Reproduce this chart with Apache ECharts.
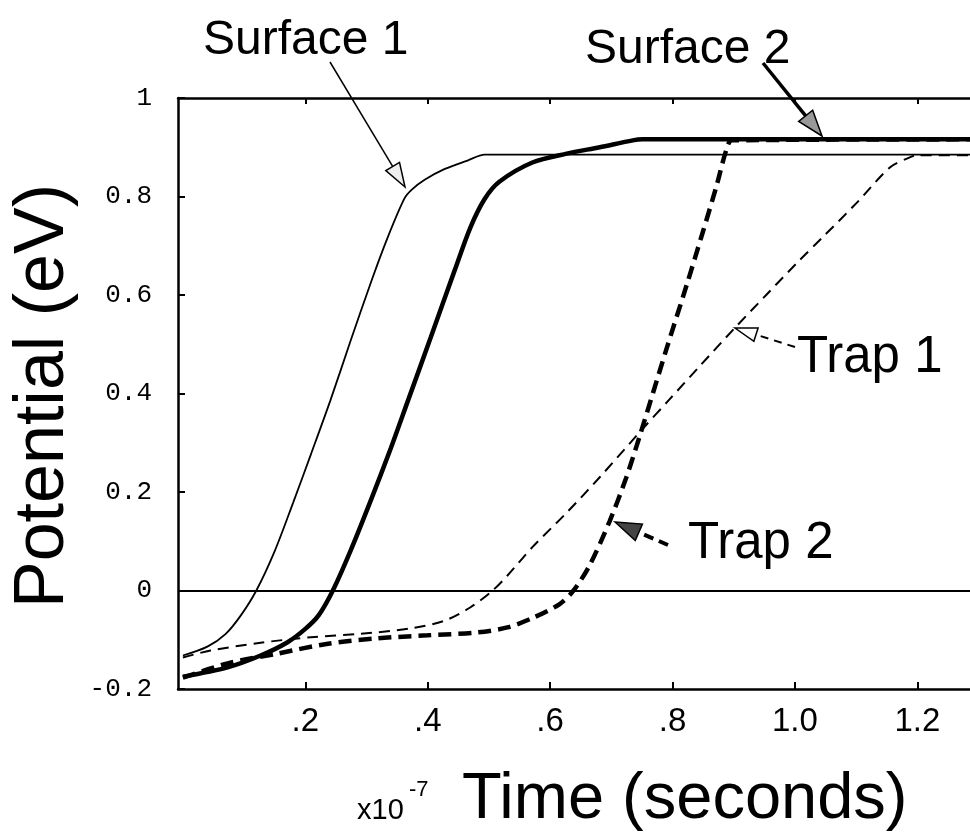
<!DOCTYPE html>
<html>
<head>
<meta charset="utf-8">
<style>
  html, body { margin: 0; padding: 0; background: #fff; }
  #chart { width: 970px; height: 833px; }
</style>
<script src="https://cdn.jsdelivr.net/npm/echarts@6/dist/echarts.min.js"></script>
</head>
<body>
<div id="chart"></div>
<script>
// 축 눈금
var xTickValues = [0.2, 0.4, 0.6, 0.8, 1.0, 1.2];
var xTickLabels = ['.2', '.4', '.6', '.8', '1.0', '1.2'];
var yTickLabels = ['-0.2', '0', '0.2', '0.4', '0.6', '0.8', '1'];

// Surface 1
var surface1T = [0, 0.04, 0.07, 0.095, 0.12, 0.15, 0.18, 0.209, 0.241, 0.274, 0.307, 0.334, 0.362, 0.374, 0.395, 0.428, 0.465, 0.493, 1.29];
var surface1V = [-0.132, -0.114, -0.088, -0.05, 0, 0.08, 0.178, 0.276, 0.386, 0.507, 0.625, 0.715, 0.796, 0.814, 0.834, 0.856, 0.873, 0.885, 0.885];

// Surface 2
var surface2T = [0, 0.073, 0.127, 0.171, 0.20, 0.222, 0.245, 0.274, 0.307, 0.34, 0.367, 0.405, 0.444, 0.47, 0.493, 0.517, 0.571, 0.627, 0.681, 0.735, 0.751, 1.29];
var surface2V = [-0.175, -0.156, -0.132, -0.105, -0.078, -0.05, 0, 0.081, 0.183, 0.29, 0.383, 0.514, 0.65, 0.738, 0.795, 0.830, 0.869, 0.887, 0.90, 0.914, 0.916, 0.916];

// Trap 1
var trap1T = [0, 0.045, 0.127, 0.209, 0.29, 0.372, 0.428, 0.47, 0.506, 0.53, 0.571, 0.627, 0.681, 0.751, 0.795, 0.844, 0.901, 0.953, 1.007, 1.045, 1.10, 1.155, 1.183, 1.20, 1.29];
var trap1V = [-0.136, -0.122, -0.106, -0.095, -0.088, -0.077, -0.061, -0.034, 0, 0.03, 0.088, 0.158, 0.23, 0.328, 0.388, 0.455, 0.532, 0.6, 0.67, 0.717, 0.786, 0.859, 0.877, 0.884, 0.884];

// Trap 2
var trap2T = [0, 0.073, 0.155, 0.237, 0.318, 0.40, 0.482, 0.53, 0.571, 0.615, 0.637, 0.664, 0.697, 0.724, 0.746, 0.79, 0.823, 0.85, 0.872, 0.888, 0.897, 1.29];
var trap2V = [-0.177, -0.148, -0.128, -0.108, -0.097, -0.091, -0.085, -0.075, -0.056, -0.028, -0.002, 0.05, 0.14, 0.228, 0.312, 0.49, 0.62, 0.73, 0.822, 0.895, 0.914, 0.916];

function pairs(t, v) {
    return t.map(function(x, i) { return [x, v[i]]; });
}

// 화살표 (선 + 삼각형 머리)
function arrow(x1, y1, x2, y2, opt) {
    var dx = x2 - x1, dy = y2 - y1;
    var len = Math.sqrt(dx * dx + dy * dy);
    var ux = dx / len, uy = dy / len;
    var hl = opt.headLen, hw = opt.headWidth;
    var bx = x2 - ux * hl, by = y2 - uy * hl;
    return [{
        type : 'line',
        shape : { x1 : x1, y1 : y1, x2 : bx, y2 : by },
        style : { stroke : '#000', lineWidth : opt.width, lineDash : opt.dash || null }
    }, {
        type : 'polygon',
        shape : { points : [[x2, y2], [bx - uy * hw, by + ux * hw], [bx + uy * hw, by - ux * hw]] },
        style : { fill : opt.fill, stroke : '#000', lineWidth : 1.5 }
    }];
}

var chart = echarts.init(document.getElementById('chart'));

var sansFont = '"Liberation Sans", Arial, sans-serif';

var graphics = [].concat(
    arrow(330, 62, 405, 187, { width : 1.5, headLen : 24, headWidth : 8, fill : '#eee' }),
    arrow(763, 63, 822, 136, { width : 3.5, headLen : 26, headWidth : 9, fill : '#999' }),
    arrow(795, 347, 735, 328, { width : 2, dash : [8, 6], headLen : 22, headWidth : 7, fill : '#fff' }),
    arrow(668, 545, 615, 522, { width : 4, dash : [10, 6], headLen : 26, headWidth : 9, fill : '#444' }),
    [
        { type : 'text', left : 203, top : 17, style : { text : 'Surface 1', font : '48px ' + sansFont, fill : '#000' } },
        { type : 'text', left : 585, top : 26, style : { text : 'Surface 2', font : '48px ' + sansFont, fill : '#000' } },
        { type : 'text', left : 797, top : 332, style : { text : 'Trap 1', font : '51px ' + sansFont, fill : '#000' } },
        { type : 'text', left : 688, top : 518, style : { text : 'Trap 2', font : '51px ' + sansFont, fill : '#000' } },
        {
            type : 'text', x : 44, y : 396, rotation : Math.PI / 2,
            style : { text : 'Potential (eV)', font : '70px ' + sansFont, fill : '#000', align : 'center', verticalAlign : 'middle' }
        },
        { type : 'text', left : 357, top : 796, style : { text : 'x10', font : '29px ' + sansFont, fill : '#000' } },
        { type : 'text', left : 409, top : 779, style : { text : '-7', font : '22px ' + sansFont, fill : '#000' } },
        { type : 'text', left : 462, top : 768, style : { text : 'Time (seconds)', font : '65px ' + sansFont, fill : '#000' } }
    ]
);

option = {
    backgroundColor : '#fff',
    animation : false,
    grid : { left : 178, top : 98, width : 792, height : 591 },
    xAxis : [{
        type : 'value',
        position : 'bottom',
        min : -0.008,
        max : 1.286,
        axisLine : { onZero : false, lineStyle : { color : '#000', width : 2.5 } },
        axisTick : { inside : true, length : 7, customValues : xTickValues, lineStyle : { color : '#000', width : 2 } },
        axisLabel : {
            customValues : xTickValues,
            margin : 16,
            color : '#000',
            fontFamily : 'Liberation Sans',
            fontSize : 33,
            formatter : function(v) {
                var i = xTickValues.indexOf(v);
                return i >= 0 ? xTickLabels[i] : '';
            }
        },
        splitLine : { show : false }
    }, {
        type : 'value',
        position : 'top',
        min : -0.008,
        max : 1.286,
        axisLine : { onZero : false, lineStyle : { color : '#000', width : 2.5 } },
        axisTick : { inside : true, length : 6, customValues : xTickValues, lineStyle : { color : '#000', width : 2 } },
        axisLabel : { show : false },
        splitLine : { show : false }
    }],
    yAxis : [{
        type : 'value',
        position : 'left',
        min : -0.2,
        max : 1,
        interval : 0.2,
        axisLine : { onZero : false, lineStyle : { color : '#000', width : 2.5 } },
        axisTick : { inside : true, length : 7, lineStyle : { color : '#000', width : 2 } },
        axisLabel : {
            margin : 26,
            color : '#000',
            fontFamily : 'Liberation Mono',
            fontSize : 26,
            formatter : function(v, i) {
                return yTickLabels[i];
            }
        },
        splitLine : { show : false }
    }, {
        type : 'value',
        position : 'right',
        min : -0.2,
        max : 1,
        interval : 0.2,
        axisLine : { show : false },
        axisTick : { show : true, inside : true, length : 5, lineStyle : { color : '#000', width : 2 } },
        axisLabel : { show : false },
        splitLine : { show : false }
    }],
    series : [{
        name : 'Surface 1',
        type : 'line',
        showSymbol : false,
        smooth : 0.3,
        lineStyle : { color : '#000', width : 1.8 },
        data : pairs(surface1T, surface1V),
        markLine : {
            silent : true,
            symbol : 'none',
            label : { show : false },
            lineStyle : { color : '#000', width : 2, type : 'solid' },
            data : [{ yAxis : 0 }]
        }
    }, {
        name : 'Surface 2',
        type : 'line',
        showSymbol : false,
        smooth : 0.3,
        lineStyle : { color : '#000', width : 4.5 },
        data : pairs(surface2T, surface2V)
    }, {
        name : 'Trap 1',
        type : 'line',
        showSymbol : false,
        smooth : 0.3,
        lineStyle : { color : '#000', width : 2, type : [11, 7] },
        data : pairs(trap1T, trap1V)
    }, {
        name : 'Trap 2',
        type : 'line',
        showSymbol : false,
        smooth : 0.3,
        lineStyle : { color : '#000', width : 4.5, type : [13, 7] },
        data : pairs(trap2T, trap2V)
    }],
    graphic : graphics
};

chart.setOption(option);

window.addEventListener('resize', function() {
    chart.resize()
})
</script>
</body>
</html>
